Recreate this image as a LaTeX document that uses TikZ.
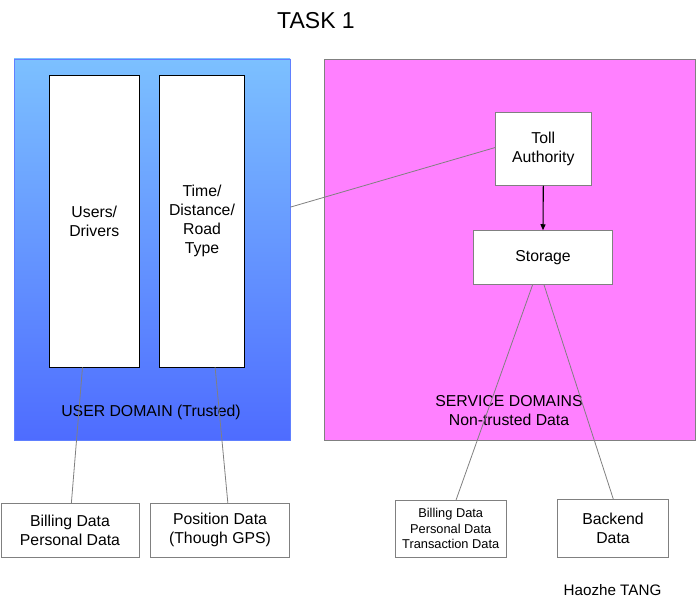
\documentclass[tikz,border=0pt]{standalone}
\usepackage{fontspec}
\setmainfont{Liberation Sans}
\usetikzlibrary{arrows.meta,calc}
\definecolor{bluetop}{RGB}{124,192,255}
\definecolor{bluebot}{RGB}{78,108,255}
\definecolor{blueedge}{RGB}{96,128,255}
\definecolor{pinkfill}{RGB}{255,128,255}
\definecolor{edgegray}{RGB}{128,128,128}
\tikzset{
  txt/.style={font=\fontsize{15.8}{19}\selectfont, align=center, inner sep=0pt},
  userdom/.style={draw=blueedge, line width=0.8pt, top color=bluetop, bottom color=bluebot, minimum width=276pt, minimum height=381pt, inner sep=0pt},
  servdom/.style={draw=edgegray, line width=0.8pt, fill=pinkfill, minimum width=371pt, minimum height=381pt, inner sep=0pt},
  whitebox/.style={draw=black, line width=0.9pt, fill=white, txt},
  graybox/.style={draw=edgegray, line width=0.9pt, fill=white, txt},
  link/.style={draw=edgegray, line width=0.8pt},
  flow/.style={draw=black, line width=1.1pt, -{Triangle[length=6pt,width=5pt]}}
}
\begin{document}
\begin{tikzpicture}[x=1pt,y=-1pt]
\useasboundingbox (0,0) rectangle (696,604);
\node[txt, font=\fontsize{23}{27}\selectfont] (title) at (316,21) {TASK 1};
% domains
\node[userdom] (user) at (152,249.5) {};
\node[servdom] (serv) at (509.5,249.5) {};
% user domain contents
\node[whitebox, minimum width=90pt, minimum height=292pt] (users) at (94.3,221) {Users/\\Drivers};
\node[whitebox, minimum width=85.4pt, minimum height=292pt] (time) at (202,221) {Time/\\Distance/\\Road\\Type};
\node[txt] (userlbl) at (151,412) {USER DOMAIN (Trusted)};
% service domain contents
\node[graybox, minimum width=95.3pt, minimum height=72.6pt] (toll) at (543.3,149) {Toll\\Authority};
\node[graybox, minimum width=139.4pt, minimum height=53.6pt] (storage) at (543,257.5) {Storage};
\node[txt] (servlbl) at (509,411) {SERVICE DOMAINS\\Non-trusted Data};
% bottom boxes
\node[graybox, minimum width=138pt, minimum height=54pt] (billing) at (70,530.3) {Billing Data\\Personal Data};
\node[graybox, minimum width=139pt, minimum height=54pt] (position) at (220,530.3) {Position Data\\(Though GPS)};
\node[graybox, font=\fontsize{12.8}{15.6}\selectfont, minimum width=111.4pt, minimum height=57pt] (trans) at (450.7,528.8) {Billing Data\\Personal Data\\Transaction Data};
\node[graybox, minimum width=111pt, minimum height=58pt] (backend) at (613,528.3) {Backend\\Data};
\node[txt, font=\fontsize{15.2}{18}\selectfont] (author) at (612.5,590) {Haozhe TANG};
% connectors
\draw[link] ($(user.north east)!0.389!(user.south east)$) -- ($(toll.north west)!0.48!(toll.south west)$);
\draw[flow] (toll.south) -- (storage.north);
\draw[link] ($(users.south west)!0.37!(users.south east)$) -- ($(billing.north west)!0.51!(billing.north east)$);
\draw[link] ($(time.south west)!0.652!(time.south east)$) -- ($(position.north west)!0.556!(position.north east)$);
\draw[link] ($(storage.south west)!0.426!(storage.south east)$) -- ($(trans.north west)!0.548!(trans.north east)$);
\draw[link] ($(storage.south west)!0.507!(storage.south east)$) -- ($(backend.north west)!0.502!(backend.north east)$);
\end{tikzpicture}
\end{document}
